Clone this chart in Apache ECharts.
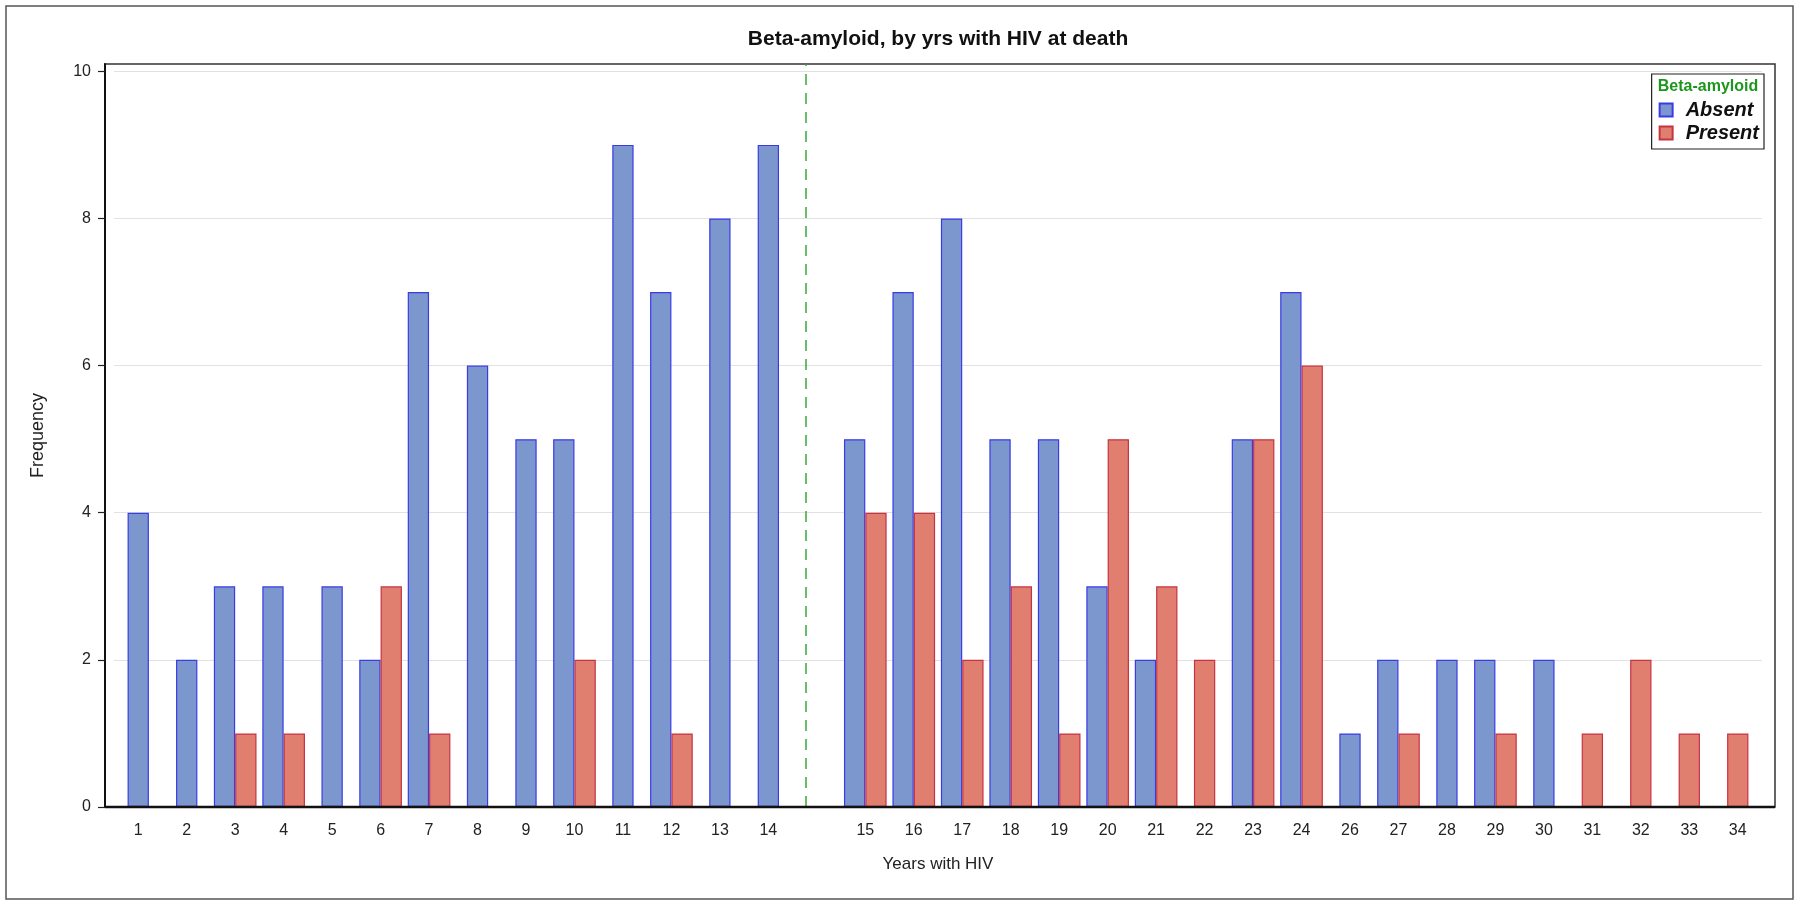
<!DOCTYPE html>
<html>
<head>
<meta charset="utf-8">
<script src="https://cdn.jsdelivr.net/npm/echarts@6/dist/echarts.min.js"></script>
<style>
html,body{margin:0;padding:0;background:#fff;}
#chart{width:1800px;height:905px;}
</style>
</head>
<body>
<div id="chart"></div>
<script>
// ---- data ----
const categories = ['1','2','3','4','5','6','7','8','9','10','11','12','13','14',' ',
  '15','16','17','18','19','20','21','22','23','24','26','27','28','29','30','31','32','33','34'];
const absent  = [4,2,3,3,3,2,7,6,5,5,9,7,8,9,0, 5,7,8,5,5,3,2,0,5,7, 1,2,2,2,2,0,0,0,0];
const present = [0,0,1,1,0,3,1,0,0,2,0,1,0,0,0, 4,4,2,3,1,5,3,2,5,6, 0,1,0,1,0,1,2,1,1];
const yTicks = [0,2,4,6,8,10];
const dividerCategory = ' ';

// split into side-by-side pairs and centred singles
const absentPair = [], presentPair = [], absentSingle = [], presentSingle = [];
for (let i = 0; i < categories.length; i++) {
  const a = absent[i], p = present[i];
  const both = a > 0 && p > 0;
  absentPair.push(both ? a : null);
  presentPair.push(both ? p : null);
  absentSingle.push(!both && a > 0 ? a : null);
  presentSingle.push(!both && p > 0 ? p : null);
}

const FONT = '"Liberation Sans", Arial, sans-serif';
const absentStyle = {color: '#7b97cd', borderColor: '#3b3be6', borderWidth: 1.2};
const presentStyle = {color: '#e07f70', borderColor: '#c73341', borderWidth: 1.2};

const G = {left: 114, right: 38, top: 64, bottom: 98};
const frame = {x1: 105, y1: 64, x2: 1775, y2: 807};

const chart = echarts.init(document.getElementById('chart'));
chart.setOption({
  animation: false,
  backgroundColor: '#fff',
  grid: {left: G.left, right: G.right, top: G.top, bottom: G.bottom, containLabel: false},
  xAxis: [{
    type: 'category', data: categories, gridIndex: 0,
    name: 'Years with HIV', nameLocation: 'middle', nameGap: 49,
    nameTextStyle: {fontFamily: FONT, fontSize: 17, color: '#222'},
    axisLine: {lineStyle: {color: '#111', width: 2}},
    axisTick: {alignWithLabel: true, length: 7, lineStyle: {color: '#222', width: 1.2}},
    axisLabel: {interval: 0, margin: 16, fontFamily: FONT, fontSize: 16, color: '#222'},
    splitLine: {show: false}
  }, {
    type: 'category', data: categories, gridIndex: 0, show: false
  }],
  yAxis: {
    type: 'value', min: 0, max: 10.1, interval: 2, offset: 9,
    name: 'Frequency', nameLocation: 'middle', nameGap: 58,
    nameTextStyle: {fontFamily: FONT, fontSize: 18, color: '#222'},
    axisLine: {show: true, lineStyle: {color: '#111', width: 2}},
    axisTick: {show: true, length: 7, customValues: yTicks, lineStyle: {color: '#222', width: 1.2}},
    axisLabel: {customValues: yTicks, margin: 14, fontFamily: FONT, fontSize: 16, color: '#222'},
    splitLine: {show: true, lineStyle: {color: '#e2e2e2', width: 1}}
  },
  legend: {
    orient: 'vertical', right: 36, top: 74,
    data: ['Absent', 'Present'],
    icon: 'rect', itemWidth: 13, itemHeight: 13, itemGap: 3,
    padding: [26, 5, 6, 7],
    borderColor: '#222', borderWidth: 1.2,
    textStyle: {fontFamily: FONT, fontSize: 20, fontWeight: 'bold', fontStyle: 'italic', color: '#111', padding: [0, 0, 0, 8]}
  },
  graphic: [
    {type: 'rect', silent: true, z: -1, shape: {x: 6, y: 6, width: 1787, height: 893},
     style: {fill: 'none', stroke: '#555', lineWidth: 1.5}},
    {type: 'rect', silent: true, z: 0, shape: {x: frame.x1, y: frame.y1, width: frame.x2 - frame.x1, height: frame.y2 - frame.y1},
     style: {fill: 'none', stroke: '#333', lineWidth: 1.5}},
    {type: 'line', silent: true, z: 10, shape: {x1: frame.x1, y1: frame.y2, x2: frame.x2, y2: frame.y2},
     style: {stroke: '#111', lineWidth: 2.5}},
    {type: 'text', silent: true, z: 10, x: 938, y: 39,
     style: {text: 'Beta-amyloid, by yrs with HIV at death', fontFamily: FONT, fontSize: 21, fontWeight: 'bold', fill: '#111', align: 'center', verticalAlign: 'middle'}},
    {type: 'text', silent: true, z: 10, x: 1708, y: 87,
     style: {text: 'Beta-amyloid', fontFamily: FONT, fontSize: 16, fontWeight: 'bold', fill: '#1e961e', align: 'center', verticalAlign: 'middle'}}
  ],
  series: [
    {name: 'Absent', type: 'bar', xAxisIndex: 0, data: absentPair, barWidth: '44%', barGap: '0%',
     itemStyle: absentStyle,
     markLine: {silent: true, symbol: 'none', label: {show: false},
       lineStyle: {color: '#3aa83a', type: [11, 8], width: 1.5},
       data: [{xAxis: dividerCategory}]}},
    {name: 'Present', type: 'bar', xAxisIndex: 0, data: presentPair, barWidth: '44%', barGap: '0%',
     itemStyle: presentStyle},
    {name: 'Absent', type: 'bar', xAxisIndex: 1, data: absentSingle, barWidth: '44%', barGap: '-100%',
     itemStyle: absentStyle},
    {name: 'Present', type: 'bar', xAxisIndex: 1, data: presentSingle, barWidth: '44%', barGap: '-100%',
     itemStyle: presentStyle}
  ]
});
</script>
</body>
</html>
